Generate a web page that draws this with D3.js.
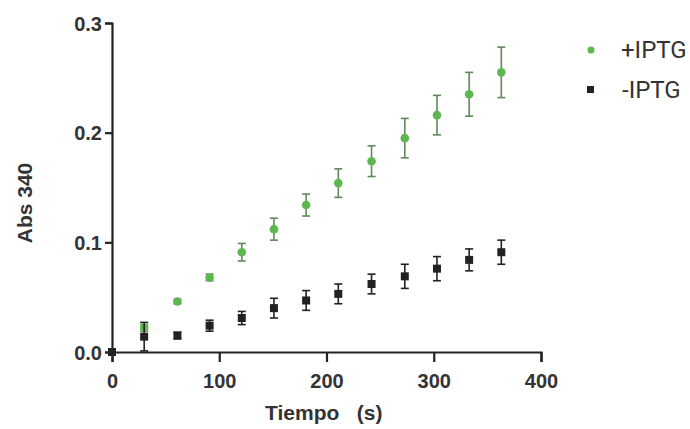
<!DOCTYPE html>
<html>
<head>
<meta charset="utf-8">
<script src="https://cdn.jsdelivr.net/npm/d3@7"></script>
<style>
  body { margin: 0; background: #fff; }
  text { font-family: "Liberation Sans", Arial, sans-serif; }
</style>
</head>
<body>
<div id="chart"></div>
<script>
// time points (s)
var tiempo = [0, 30, 61, 91, 121, 151, 181, 211, 242, 273, 303, 333, 363];
// +IPTG series
var plusVals = [0, 0.022, 0.046, 0.068, 0.091, 0.112, 0.134, 0.154, 0.174, 0.195, 0.216, 0.235, 0.255];
var plusErr  = [0, 0.003, 0.002, 0.003, 0.008, 0.010, 0.010, 0.013, 0.014, 0.018, 0.018, 0.020, 0.023];
// -IPTG series
var minusVals = [0, 0.014, 0.015, 0.024, 0.031, 0.040, 0.047, 0.053, 0.062, 0.069, 0.076, 0.084, 0.091];
var minusErr  = [0, 0.013, 0.003, 0.005, 0.006, 0.009, 0.009, 0.009, 0.009, 0.011, 0.011, 0.010, 0.011];
var xTicks = [0, 100, 200, 300, 400];
var yTicks = [0.0, 0.1, 0.2, 0.3];

var width = 690, height = 429;
var svg = d3.select("#chart").append("svg")
    .attr("width", width)
    .attr("height", height);

var x = d3.scaleLinear().domain([0, 400]).range([112, 541]);
var y = d3.scaleLinear().domain([0, 0.3]).range([352, 23]);

var green = "#5cb84e", dark = "#222";

// axes
var xAxis = svg.append("g")
    .attr("transform", "translate(0," + y(0) + ")")
    .call(d3.axisBottom(x).tickValues(xTicks).tickFormat(d3.format("d")).tickSizeOuter(0).tickSize(10).tickPadding(12));
var yAxis = svg.append("g")
    .attr("transform", "translate(" + x(0) + ",0)")
    .call(d3.axisLeft(y).tickValues(yTicks).tickFormat(d3.format(".1f")).tickSizeOuter(0).tickSize(7).tickPadding(3));

[xAxis, yAxis].forEach(function(a) {
    a.select(".domain").attr("stroke", dark).attr("stroke-width", 2.2);
    a.selectAll(".tick line").attr("stroke", dark).attr("stroke-width", 2.2);
    a.selectAll(".tick text")
        .attr("fill", "#333")
        .style("font-size", "20px")
        .style("font-weight", "bold");
});
yAxis.selectAll(".tick text").attr("dy", "0.36em");

// axis titles
svg.append("text")
    .attr("x", 265).attr("y", 420)
    .attr("fill", "#333")
    .style("font-size", "21px").style("font-weight", "bold")
    .attr("xml:space", "preserve")
    .text("Tiempo   (s)");
svg.append("text")
    .attr("transform", "translate(32,203) rotate(-90)")
    .attr("text-anchor", "middle")
    .attr("fill", "#333")
    .style("font-size", "21px").style("font-weight", "bold")
    .text("Abs 340");

function drawSeries(vals, errs, color, barColor, shape) {
    var g = svg.append("g");
    var pts = tiempo.map(function(t, i) { return { t: t, v: vals[i], e: errs[i] }; });
    var eb = g.selectAll(".eb").data(pts.filter(function(d) { return d.e > 0; })).enter().append("g");
    eb.append("line")
        .attr("x1", function(d) { return x(d.t); }).attr("x2", function(d) { return x(d.t); })
        .attr("y1", function(d) { return y(d.v - d.e); }).attr("y2", function(d) { return y(d.v + d.e); })
        .attr("stroke", barColor).attr("stroke-width", 1.6);
    [-1, 1].forEach(function(s) {
        eb.append("line")
            .attr("x1", function(d) { return x(d.t) - 4; }).attr("x2", function(d) { return x(d.t) + 4; })
            .attr("y1", function(d) { return y(d.v + s * d.e); }).attr("y2", function(d) { return y(d.v + s * d.e); })
            .attr("stroke", barColor).attr("stroke-width", 1.6);
    });
    if (shape === "circle") {
        g.selectAll("circle").data(pts).enter().append("circle")
            .attr("cx", function(d) { return x(d.t); })
            .attr("cy", function(d) { return y(d.v); })
            .attr("r", 4.3)
            .attr("fill", color);
    } else {
        g.selectAll("rect").data(pts).enter().append("rect")
            .attr("x", function(d) { return x(d.t) - 4; })
            .attr("y", function(d) { return y(d.v) - 4; })
            .attr("width", 8).attr("height", 8)
            .attr("fill", color);
    }
}

drawSeries(plusVals, plusErr, green, "#5f8a5a", "circle");
drawSeries(minusVals, minusErr, dark, dark, "square");

// legend
var legend = svg.append("g");
legend.append("circle").attr("cx", 591).attr("cy", 50).attr("r", 3.5).attr("fill", green);
legend.append("rect").attr("x", 587).attr("y", 86).attr("width", 7).attr("height", 7).attr("fill", dark);
legend.append("text").attr("x", 621).attr("y", 58)
    .attr("fill", "#333").style("font-family", "Roboto, sans-serif").style("font-size", "24px").text("+IPTG");
legend.append("text").attr("x", 622).attr("y", 98)
    .attr("fill", "#333").style("font-family", "Roboto, sans-serif").style("font-size", "24px").text("-IPTG");
</script>
</body>
</html>
